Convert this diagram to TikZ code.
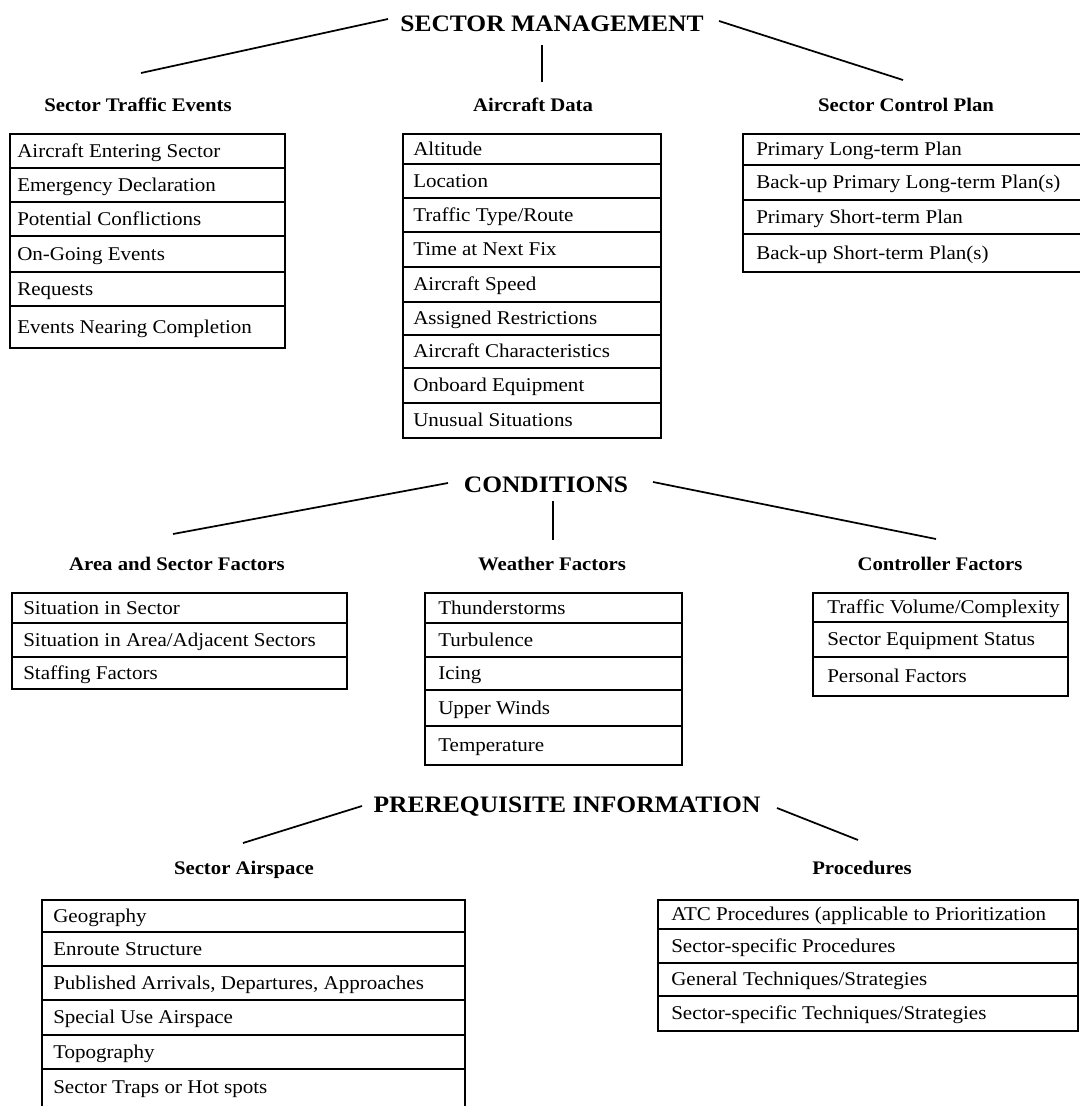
\documentclass[tikz,border=0pt]{standalone}
\usepackage{fontspec}
\setmainfont{Liberation Serif}[FakeStretch=1.08]
\tikzset{
  boxline/.style={draw=black, line width=1.15pt},
  conn/.style={draw=black, line width=1.3pt},
  item/.style={anchor=base west, inner sep=0pt, font=\fontsize{14.6pt}{17pt}\selectfont},
  head/.style={anchor=base, inner sep=0pt, font=\fontsize{14.4pt}{17pt}\selectfont\bfseries},
  ttl/.style={anchor=base, inner sep=0pt, font=\fontsize{17.7pt}{20pt}\selectfont\bfseries}
}
% name, x1, x2, top, bottom, inset, text
\newcommand\rowitem[7]{%
  \draw[boxline] (#2,#4) rectangle (#3,#5);
  \node[item] (#1) at ({#2+#6},{(#4+#5)/2+6}) {#7};
}
\begin{document}
\begin{tikzpicture}[x=0.75pt,y=-0.75pt]
\useasboundingbox (0,0) rectangle (1080,1106);
\clip (0,0) rectangle (1080,1106);
\fill[white] (0,0) rectangle (1080,1106);

% ---------------- SECTOR MANAGEMENT ----------------
\node[ttl] (sm) at (552,32) {SECTOR MANAGEMENT};
\coordinate (smL1) at (388,19); \coordinate (smL2) at (141,73);
\coordinate (smR1) at (719,21); \coordinate (smR2) at (903,80);
\coordinate (smV1) at (542,45); \coordinate (smV2) at (542,82);
\draw[conn] (smL1) -- (smL2);
\draw[conn] (smR1) -- (smR2);
\draw[conn] (smV1) -- (smV2);

\node[head] (hste) at (138,112) {Sector Traffic Events};
\node[head] (had) at (533,112) {Aircraft Data};
\node[head] (hscp) at (906,112) {Sector Control Plan};

\rowitem{ste1}{10}{285}{134}{168}{7}{Aircraft Entering Sector}
\rowitem{ste2}{10}{285}{168}{202}{7}{Emergency Declaration}
\rowitem{ste3}{10}{285}{202}{236}{7}{Potential Conflictions}
\rowitem{ste4}{10}{285}{236}{272}{7}{On-Going Events}
\rowitem{ste5}{10}{285}{272}{306}{7}{Requests}
\rowitem{ste6}{10}{285}{306}{348}{7}{Events Nearing Completion}

\rowitem{ad1}{403}{661}{134}{164}{10}{Altitude}
\rowitem{ad2}{403}{661}{164}{198}{10}{Location}
\rowitem{ad3}{403}{661}{198}{232}{10}{Traffic Type/Route}
\rowitem{ad4}{403}{661}{232}{267}{10}{Time at Next Fix}
\rowitem{ad5}{403}{661}{267}{302}{10}{Aircraft Speed}
\rowitem{ad6}{403}{661}{302}{335}{10}{Assigned Restrictions}
\rowitem{ad7}{403}{661}{335}{368}{10}{Aircraft Characteristics}
\rowitem{ad8}{403}{661}{368}{403}{10}{Onboard Equipment}
\rowitem{ad9}{403}{661}{403}{438}{10}{Unusual Situations}

\rowitem{scp1}{743}{1095}{134}{165}{13}{Primary Long-term Plan}
\rowitem{scp2}{743}{1095}{165}{200}{13}{Back-up Primary Long-term Plan(s)}
\rowitem{scp3}{743}{1095}{200}{234}{13}{Primary Short-term Plan}
\rowitem{scp4}{743}{1095}{234}{272}{13}{Back-up Short-term Plan(s)}

% ---------------- CONDITIONS ----------------
\node[ttl] (cond) at (546,492) {CONDITIONS};
\coordinate (cdL1) at (448,483); \coordinate (cdL2) at (173,534);
\coordinate (cdR1) at (653,482); \coordinate (cdR2) at (936,539);
\coordinate (cdV1) at (553,501); \coordinate (cdV2) at (553,540);
\draw[conn] (cdL1) -- (cdL2);
\draw[conn] (cdR1) -- (cdR2);
\draw[conn] (cdV1) -- (cdV2);

\node[head] (hasf) at (177,570) {Area and Sector Factors};
\node[head] (hwf) at (552,570) {Weather Factors};
\node[head] (hcf) at (940,570) {Controller Factors};

\rowitem{asf1}{12}{347}{593}{623}{11}{Situation in Sector}
\rowitem{asf2}{12}{347}{623}{657}{11}{Situation in Area/Adjacent Sectors}
\rowitem{asf3}{12}{347}{657}{689}{11}{Staffing Factors}

\rowitem{wf1}{425}{682}{593}{623}{13}{Thunderstorms}
\rowitem{wf2}{425}{682}{623}{657}{13}{Turbulence}
\rowitem{wf3}{425}{682}{657}{690}{13}{Icing}
\rowitem{wf4}{425}{682}{690}{726}{13}{Upper Winds}
\rowitem{wf5}{425}{682}{726}{765}{13}{Temperature}

\rowitem{cf1}{813}{1068}{593}{622}{14}{Traffic Volume/Complexity}
\rowitem{cf2}{813}{1068}{622}{657}{14}{Sector Equipment Status}
\rowitem{cf3}{813}{1068}{657}{696}{14}{Personal Factors}

% ---------------- PREREQUISITE INFORMATION ----------------
\node[ttl] (pre) at (567,812) {PREREQUISITE INFORMATION};
\coordinate (prL1) at (362,806); \coordinate (prL2) at (243,843);
\coordinate (prR1) at (777,808); \coordinate (prR2) at (858,840);
\draw[conn] (prL1) -- (prL2);
\draw[conn] (prR1) -- (prR2);

\node[head] (hsa) at (244,874) {Sector Airspace};
\node[head] (hpr) at (862,874) {Procedures};

\rowitem{sa1}{42}{465}{900}{932}{11}{Geography}
\rowitem{sa2}{42}{465}{932}{966}{11}{Enroute Structure}
\rowitem{sa3}{42}{465}{966}{1000}{11}{Published Arrivals, Departures, Approaches}
\rowitem{sa4}{42}{465}{1000}{1035}{11}{Special Use Airspace}
\rowitem{sa5}{42}{465}{1035}{1069}{11}{Topography}
\draw[boxline] (42,1120) -- (42,1069) -- (465,1069) -- (465,1120);
\node[item] (sa6) at (53,1093) {Sector Traps or Hot spots};

\rowitem{pr1}{658}{1078}{900}{929}{13}{ATC Procedures (applicable to Prioritization}
\rowitem{pr2}{658}{1078}{929}{963}{13}{Sector-specific Procedures}
\rowitem{pr3}{658}{1078}{963}{996}{13}{General Techniques/Strategies}
\rowitem{pr4}{658}{1078}{996}{1031}{13}{Sector-specific Techniques/Strategies}
\end{tikzpicture}
\end{document}
